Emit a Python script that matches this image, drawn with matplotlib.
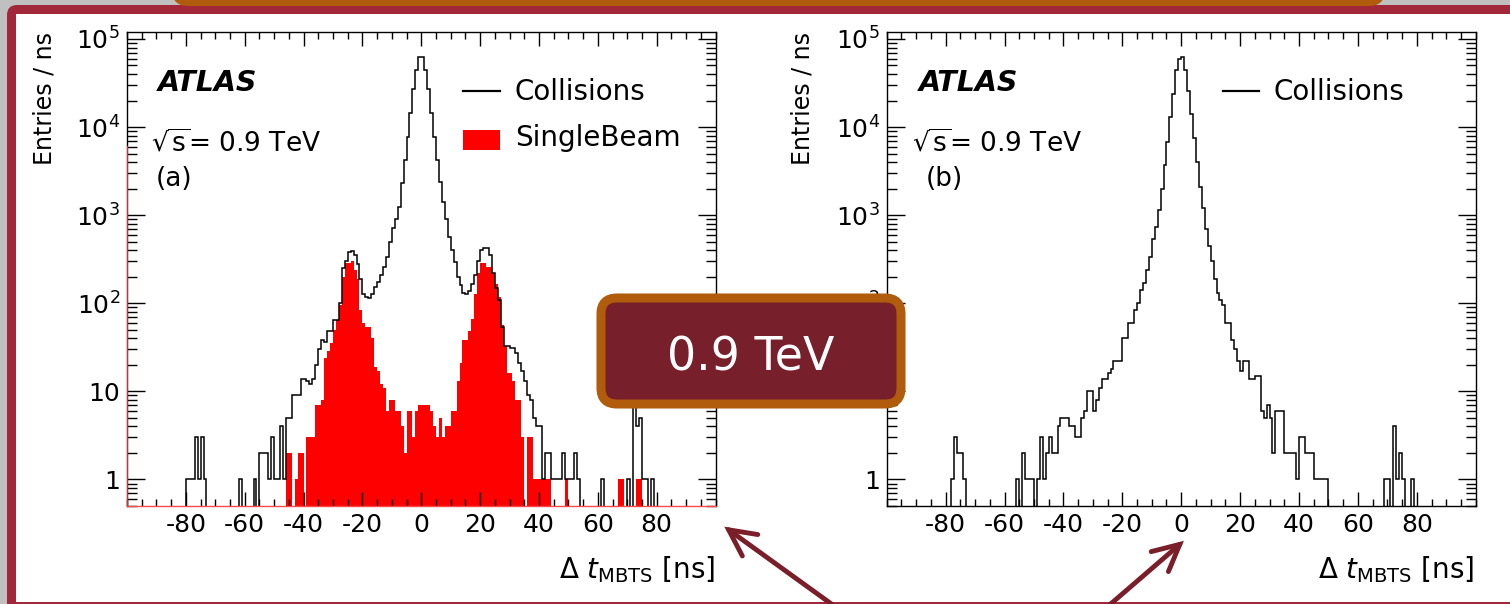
import numpy as np
import matplotlib
matplotlib.use('Agg')
import matplotlib.pyplot as plt
from matplotlib.patches import FancyBboxPatch, FancyArrowPatch, Rectangle
from matplotlib.lines import Line2D
from matplotlib.ticker import (LogLocator, MultipleLocator, FixedLocator,
                               FixedFormatter, FuncFormatter, NullFormatter)

plt.rcParams['font.family'] = ['DejaVu Sans']
plt.rcParams['mathtext.fontset'] = 'dejavusans'

# 1 ns bins, -100 .. 100 ns
edges = np.arange(-100, 101)

# (a) collisions, entries per ns bin (rows of 10 bins, first bin edge in comment)
coll_a = np.array([
    0, 0, 0, 0, 0, 0, 0, 0, 0, 0,                                  # -100
    0, 0, 0, 0, 0, 0, 0, 0, 0, 0,                                  # -90
    1, 1, 1, 3, 1, 3, 1, 0, 0, 0,                                  # -80
    0, 0, 0, 0, 0, 0, 0, 0, 1, 0,                                  # -70
    0, 0, 0, 1, 0, 2, 2, 2, 1, 3,                                  # -60
    1, 1, 4, 1, 5, 5, 9, 9, 9, 14,                                 # -50
    14, 13, 12, 14, 20, 30, 38, 36, 49, 49,                        # -40
    64, 64, 100, 250, 300, 380, 393, 350, 280, 190,                # -30
    128, 118, 115, 128, 155, 175, 210, 260, 336, 500,              # -20
    706, 900, 1245, 2330, 4220, 7760, 14300, 26800, 44000, 62000,  # -10
    62000, 44000, 26800, 14300, 7760, 4220, 2390, 1420, 916, 560,  # 0
    400, 295, 200, 160, 130, 128, 137, 167, 210, 302,              # 10
    400, 424, 424, 350, 219, 148, 108, 54, 33, 33,                 # 20
    31, 31, 27, 21, 17, 13, 9, 8, 5, 4,                            # 30
    4, 1, 2, 2, 1, 1, 1, 1, 2, 1,                                  # 40
    1, 1, 2, 1, 0, 0, 0, 0, 0, 0,                                  # 50
    0, 1, 0, 0, 0, 0, 0, 0, 0, 0,                                  # 60
    1, 0, 8, 4, 5, 1, 1, 0, 1, 0,                                  # 70
    0, 0, 0, 0, 0, 0, 0, 0, 0, 0,                                  # 80
    0, 0, 0, 0, 0, 0, 0, 0, 0, 0,                                  # 90
])

# (a) single-beam events
single_a = np.array([
    0, 0, 0, 0, 0, 0, 0, 0, 0, 0,                                  # -100
    0, 0, 0, 0, 0, 0, 0, 0, 0, 0,                                  # -90
    0, 0, 0, 0, 0, 0, 0, 0, 0, 0,                                  # -80
    0, 0, 0, 0, 0, 0, 0, 0, 0, 0,                                  # -70
    0, 0, 0, 0, 0, 0, 0, 0, 0, 0,                                  # -60
    0, 0, 0, 0, 2, 2, 0, 1, 2, 2,                                  # -50
    0, 3, 3, 3, 7, 7, 8, 24, 29, 35,                               # -40
    50, 64, 95, 200, 283, 283, 300, 240, 187, 83,                  # -30
    60, 54, 54, 40, 19, 17, 12, 11, 6, 8,                          # -20
    8, 6, 6, 4, 2, 6, 6, 3, 6, 7,                                  # -10
    7, 7, 7, 6, 4, 3, 5, 3, 4, 4,                                  # 0
    6, 6, 13, 21, 38, 38, 49, 67, 128, 219,                        # 10
    283, 283, 258, 258, 219, 167, 118, 56, 33, 16,                 # 20
    16, 13, 8, 8, 3, 0, 3, 3, 1, 1,                                # 30
    1, 1, 1, 1, 0, 0, 0, 0, 0, 1,                                  # 40
    0, 0, 0, 0, 0, 0, 0, 0, 0, 0,                                  # 50
    0, 0, 0, 0, 0, 0, 0, 1, 1, 0,                                  # 60
    0, 0, 0, 1, 1, 0, 0, 0, 0, 0,                                  # 70
    0, 0, 0, 0, 0, 0, 0, 0, 0, 0,                                  # 80
    0, 0, 0, 0, 0, 0, 0, 0, 0, 0,                                  # 90
])

# (b) collisions after the timing cut
coll_b = np.array([
    0, 0, 0, 0, 0, 0, 0, 0, 0, 0,                                  # -100
    0, 0, 0, 0, 0, 0, 0, 0, 0, 0,                                  # -90
    0, 0, 1, 3, 2, 2, 1, 0, 0, 0,                                  # -80
    0, 0, 0, 0, 0, 0, 0, 0, 0, 0,                                  # -70
    0, 0, 0, 0, 1, 0, 2, 1, 1, 1,                                  # -60
    0, 1, 3, 1, 2, 3, 2, 2, 4, 5,                                  # -50
    5, 5, 4, 4, 3, 3, 5, 6, 10, 10,                                # -40
    6, 8, 11, 14, 14, 16, 18, 22, 22, 22,                          # -30
    40, 40, 59, 59, 83, 100, 140, 170, 240, 335,                   # -20
    540, 735, 1140, 2000, 3700, 6800, 13100, 24000, 44000, 60000,  # -10
    62000, 44000, 26000, 14000, 7500, 4000, 2100, 1200, 700, 450,  # 0
    300, 190, 130, 108, 95, 59, 59, 38, 30, 22,                    # 10
    17, 22, 22, 14, 14, 15, 15, 6, 5, 7,                           # 20
    5, 2, 6, 6, 6, 2, 2, 2, 2, 1,                                  # 30
    3, 3, 2, 2, 2, 1, 1, 1, 1, 1,                                  # 40
    0, 0, 0, 0, 0, 0, 0, 0, 0, 0,                                  # 50
    0, 0, 0, 0, 0, 0, 0, 0, 0, 1,                                  # 60
    1, 0, 4, 1, 2, 1, 0, 0, 1, 0,                                  # 70
    0, 0, 0, 0, 0, 0, 0, 0, 0, 0,                                  # 80
    0, 0, 0, 0, 0, 0, 0, 0, 0, 0,                                  # 90
])

x_ticks = [-80, -60, -40, -20, 0, 20, 40, 60, 80]
y_ticks = [1, 10, 1e2, 1e3, 1e4, 1e5]

W, H = 1510, 604
YMIN, YMAX = 0.5, 1.2e5
RED = '#ff0000'
FRAME = '#a1283a'
WINE = '#771f2b'
ORANGE = '#b15b0c'


def fig_rect(x0, y0, x1, y1):
    """Pixel box (top-left origin) -> figure fraction rect."""
    return [x0 / W, 1 - y1 / H, (x1 - x0) / W, (y1 - y0) / H]


def ylab(v, pos):
    if v == 1:
        return '1'
    if v == 10:
        return '10'
    return r'$10^{%d}$' % round(np.log10(v))


def style_panel(ax):
    ax.set_yscale('log', nonpositive='clip')
    ax.set_xlim(edges[0], edges[-1])
    ax.set_ylim(YMIN, YMAX)
    ax.xaxis.set_major_locator(FixedLocator(x_ticks))
    ax.xaxis.set_major_formatter(FixedFormatter([str(v) for v in x_ticks]))
    ax.xaxis.set_minor_locator(MultipleLocator(5))
    ax.yaxis.set_major_locator(FixedLocator(y_ticks))
    ax.yaxis.set_major_formatter(FuncFormatter(ylab))
    ax.yaxis.set_minor_locator(LogLocator(base=10, subs=np.arange(2, 10), numticks=20))
    ax.yaxis.set_minor_formatter(NullFormatter())
    ax.tick_params(which='both', direction='in', top=True, right=True,
                   width=1.0, color='black')
    ax.tick_params(axis='x', which='major', length=10, labelsize=18, pad=5)
    ax.tick_params(axis='x', which='minor', length=5)
    ax.tick_params(axis='y', which='major', length=13, labelsize=18, pad=5)
    ax.tick_params(axis='y', which='minor', length=7)
    for sp in ax.spines.values():
        sp.set_linewidth(1.0)


fig = plt.figure(figsize=(W / 100, H / 100), dpi=100)
fig.patch.set_facecolor('#c0c0c0')

# slide frame underneath the plots
bg = fig.add_axes([0, 0, 1, 1], zorder=0)
bg.set_xlim(0, W)
bg.set_ylim(H, 0)
bg.axis('off')
bg.add_patch(FancyBboxPatch((7, 5), 1700, 800, boxstyle='round,pad=0,rounding_size=10',
                            fc=FRAME, ec='none'))
bg.add_patch(Rectangle((16, 14), 1700, 601.7 - 14, fc='white', ec='none'))
bg.add_patch(FancyBboxPatch((172, -40), 1385 - 172, 46, boxstyle='round,pad=0,rounding_size=16',
                            fc=ORANGE, ec='none'))

# (a) collisions + single beam
ax_a = fig.add_axes(fig_rect(127, 32, 715.5, 506), zorder=2)
style_panel(ax_a)
ax_a.stairs(single_a, edges, fill=True, color=RED, baseline=YMIN, zorder=1)
ax_a.stairs(coll_a, edges, color='black', lw=1.1, baseline=None, zorder=2)
ax_a.spines['bottom'].set_color('#ff4a4a')
ax_a.axvline(edges[0], 0, 0.757, color='#e03a3a', lw=1.3, zorder=3)

# (b) collisions only
ax_b = fig.add_axes(fig_rect(886.7, 32, 1475.7, 506), zorder=2)
style_panel(ax_b)
ax_b.stairs(coll_b, edges, color='black', lw=1.1, baseline=None, zorder=2)

# overlay for labels, legend, call-out box and arrows
fg = fig.add_axes([0, 0, 1, 1], zorder=5)
fg.set_xlim(0, W)
fg.set_ylim(H, 0)
fg.axis('off')
fg.patch.set_alpha(0)

for x0, ax_right, tag, bx in [(127, 715.5, '(a)', 44), (886.7, 1474, '(b)', 803)]:
    dx = 1 if tag == '(b)' else 0
    fg.text(bx, 32, 'Entries / ns', rotation=90, ha='center', va='top', fontsize=17)
    fg.text(ax_right, 578, r'$\Delta\ t_{\mathrm{MBTS}}$ [ns]', ha='right', va='baseline',
            fontsize=20)
    fg.text(x0 + 31 + dx, 90.7, 'ATLAS', fontsize=20.5,
            fontweight='bold', fontstyle='italic', va='baseline')
    fg.text(x0 + 24 + dx, 152, r'$\sqrt{\mathrm{s}}$= 0.9 TeV', fontsize=19, va='baseline')
    fg.text(x0 + 29 + 10 * dx, 185.5, tag, fontsize=19, va='baseline')

# legends
fg.add_line(Line2D([463, 500], [90.7, 90.7], color='black', lw=1.6))
fg.text(515, 100, 'Collisions', fontsize=20, va='baseline')
fg.add_patch(Rectangle((463, 130), 37, 19.5, fc=RED, ec='none'))
fg.text(515, 146, 'SingleBeam', fontsize=20, va='baseline')
fg.add_line(Line2D([1222.6, 1259], [90.7, 90.7], color='black', lw=1.6))
fg.text(1273.5, 100, 'Collisions', fontsize=20, va='baseline')

# energy call-out
fg.add_patch(FancyBboxPatch((601, 298), 300, 106, boxstyle='round,pad=0,rounding_size=16',
                            fc=WINE, ec=ORANGE, lw=6.5, zorder=10))
fg.text(750.5, 370.7, '0.9 TeV', color='white', fontsize=33, ha='center', va='baseline',
        zorder=11)

for tail, tip in [((837, 608), (722, 525)), ((1106, 608), (1186, 539))]:
    fg.add_patch(FancyArrowPatch(tail, tip, arrowstyle='->,head_length=19,head_width=9.5',
                                 mutation_scale=1, lw=3.5, color='#7a1e2a', zorder=10,
                                 capstyle='round', joinstyle='miter'))

fig.savefig('out.png', dpi=100, facecolor=fig.get_facecolor())
